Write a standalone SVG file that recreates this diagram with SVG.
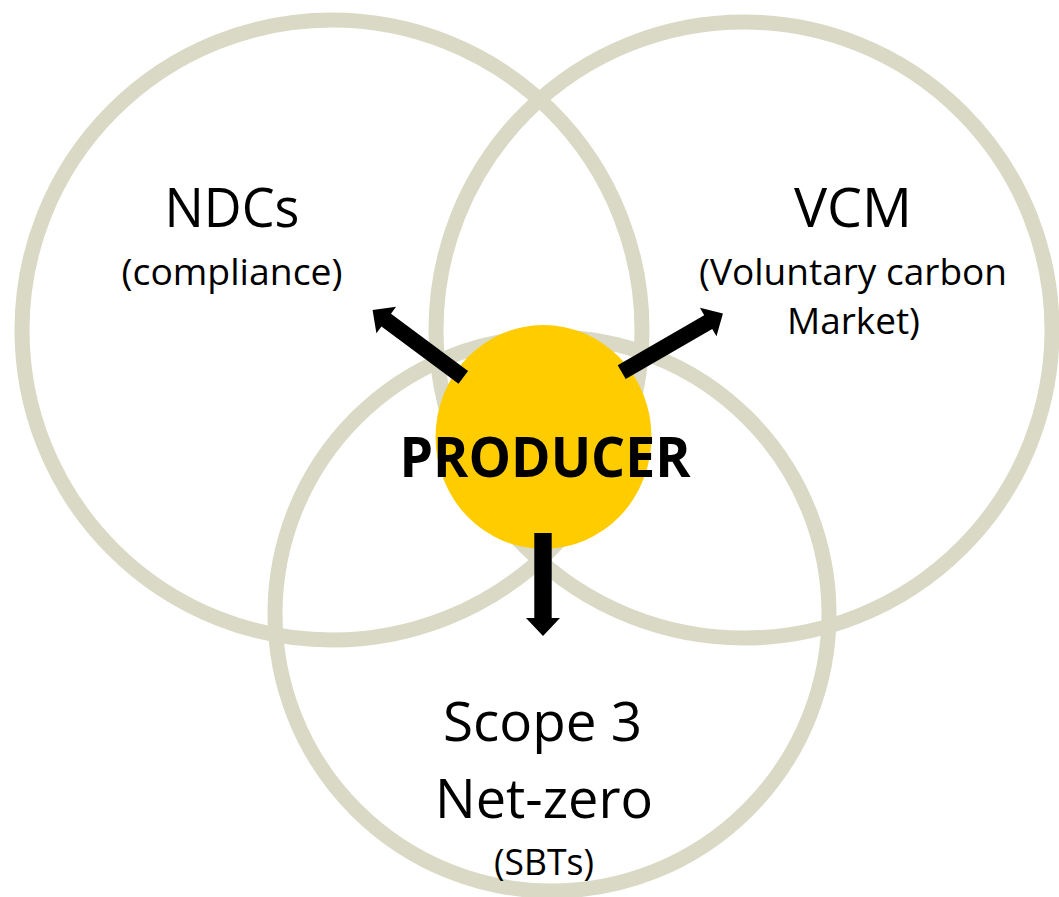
<svg xmlns="http://www.w3.org/2000/svg" width="1059" height="897" viewBox="0 0 1059 897">
  <style>
    .ring { fill: none; stroke: #d9d9c5; stroke-width: 15; }
    .hub { fill: #ffcc00; }
    .arrow { fill: #000000; }
    .big { font-family: "Open Sans", "Liberation Sans", sans-serif; font-size: 55px; fill: #000; text-anchor: middle; }
    .small { font-family: "Open Sans", "Liberation Sans", sans-serif; font-size: 37px; fill: #000; text-anchor: middle; }
    .bold { font-family: "Open Sans", "Liberation Sans", sans-serif; font-size: 55px; font-weight: bold; fill: #000; text-anchor: middle; }
  </style>
  <rect width="1059" height="897" fill="#ffffff"/>

  <g id="node-scope3">
    <circle class="ring" cx="552" cy="614" r="277"/>
  </g>
  <g id="node-ndcs">
    <circle class="ring" cx="332" cy="330" r="310"/>
  </g>
  <g id="node-vcm">
    <circle class="ring" cx="744" cy="330" r="308"/>
  </g>
  <g id="node-producer">
    <ellipse class="hub" cx="543.5" cy="437" rx="108" ry="112"/>
  </g>

  <g id="connectors">
    <polygon class="arrow" transform="translate(463.3,377.3) rotate(-143.4)" points="0,-8 96,-8 96,-16.5 113,0 96,16.5 96,8 0,8"/>
    <polygon class="arrow" transform="translate(621.7,372.2) rotate(-30.1)" points="0,-8 100,-8 100,-16.5 117,0 100,16.5 100,8 0,8"/>
    <polygon class="arrow" transform="translate(543,533) rotate(90)" points="0,-8.7 85,-8.7 85,-17 103,0 85,17 85,8.7 0,8.7"/>
  </g>

  <g id="labels">
    <text class="big" x="232" y="227" textLength="135" lengthAdjust="spacingAndGlyphs">NDCs</text>
    <text class="small" x="232" y="285" textLength="221" lengthAdjust="spacingAndGlyphs">(compliance)</text>
    <text class="big" x="853" y="227" textLength="118" lengthAdjust="spacingAndGlyphs">VCM</text>
    <text class="small" x="853" y="285" textLength="308" lengthAdjust="spacingAndGlyphs">(Voluntary carbon</text>
    <text class="small" x="853.5" y="334" textLength="133" lengthAdjust="spacingAndGlyphs">Market)</text>
    <text class="bold" x="545" y="477" textLength="291" lengthAdjust="spacingAndGlyphs">PRODUCER</text>
    <text class="big" x="542.5" y="741" textLength="199" lengthAdjust="spacingAndGlyphs">Scope 3</text>
    <text class="big" x="544" y="818" textLength="218" lengthAdjust="spacingAndGlyphs">Net-zero</text>
    <text class="small" x="544" y="875" textLength="100" lengthAdjust="spacingAndGlyphs">(SBTs)</text>
  </g>
</svg>
